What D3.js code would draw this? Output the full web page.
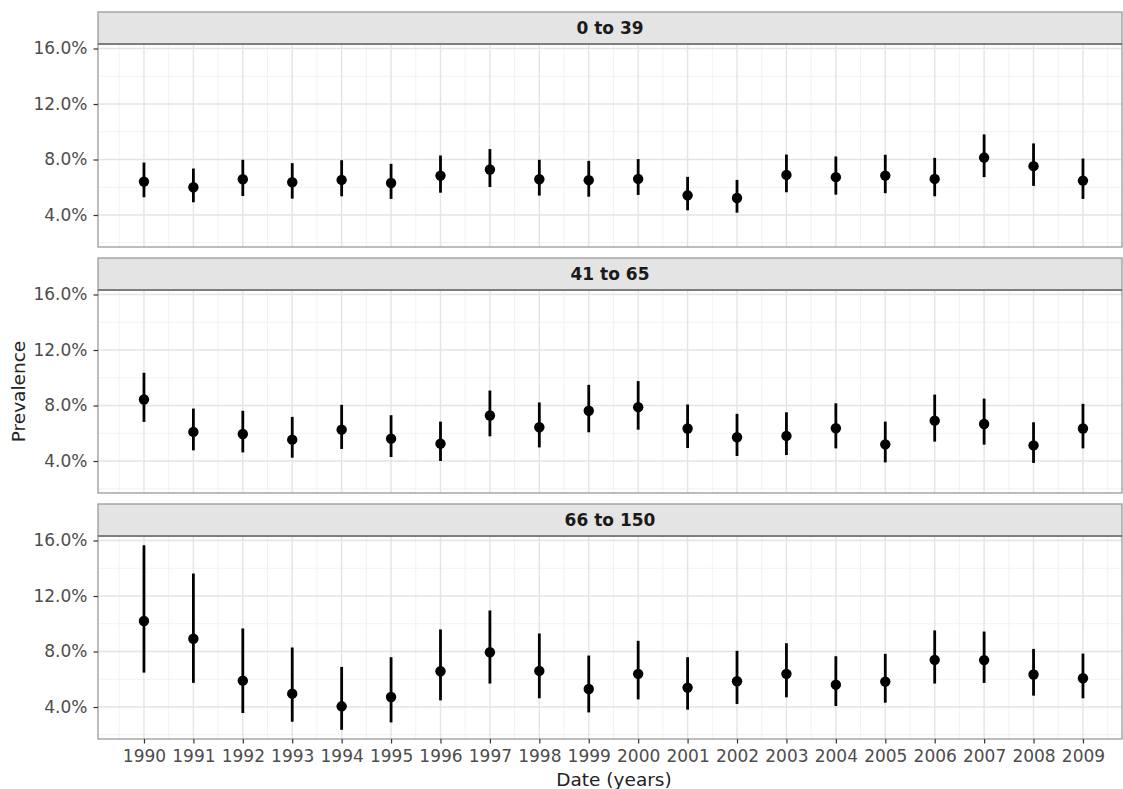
<!DOCTYPE html>
<html>
<head>
<meta charset="utf-8">
<script src="https://cdn.jsdelivr.net/npm/d3@7"></script>
<style>
  body { margin: 0; background: #fff; }
  svg { display: block; font-family: "DejaVu Sans", sans-serif; }
</style>
</head>
<body>
<svg id="chart" width="1123" height="789"></svg>
<script>
// data (percent)
const ageGroups = ["0 to 39", "41 to 65", "66 to 150"]
const years = [1990, 1991, 1992, 1993, 1994, 1995, 1996, 1997, 1998, 1999,
               2000, 2001, 2002, 2003, 2004, 2005, 2006, 2007, 2008, 2009]

const est0 = [6.41, 6.00, 6.58, 6.36, 6.53, 6.31, 6.84, 7.28, 6.58, 6.51,
              6.60, 5.42, 5.23, 6.89, 6.73, 6.84, 6.60, 8.14, 7.52, 6.48]
const lo0  = [5.28, 4.92, 5.37, 5.18, 5.35, 5.16, 5.61, 6.02, 5.40, 5.32,
              5.45, 4.34, 4.17, 5.64, 5.47, 5.57, 5.35, 6.73, 6.10, 5.16]
const hi0  = [7.78, 7.35, 7.98, 7.74, 7.95, 7.69, 8.29, 8.75, 7.98, 7.90,
              8.03, 6.75, 6.53, 8.36, 8.22, 8.34, 8.12, 9.81, 9.16, 8.07]

const est1 = [8.43, 6.10, 5.95, 5.54, 6.26, 5.61, 5.25, 7.28, 6.43, 7.62,
              7.88, 6.34, 5.71, 5.81, 6.36, 5.20, 6.91, 6.67, 5.13, 6.34]
const lo1  = [6.82, 4.77, 4.62, 4.24, 4.87, 4.29, 4.00, 5.78, 4.98, 6.07,
              6.26, 4.94, 4.36, 4.43, 4.91, 3.90, 5.40, 5.18, 3.86, 4.91]
const hi1  = [10.36, 7.78, 7.62, 7.18, 8.05, 7.30, 6.84, 9.08, 8.22, 9.49,
              9.76, 8.07, 7.40, 7.51, 8.16, 6.84, 8.79, 8.50, 6.79, 8.12]

const est2 = [10.20, 8.92, 5.90, 4.96, 4.05, 4.72, 6.58, 7.95, 6.60, 5.30,
              6.39, 5.40, 5.86, 6.39, 5.61, 5.83, 7.40, 7.38, 6.34, 6.07]
const lo2  = [6.48, 5.74, 3.57, 2.94, 2.36, 2.89, 4.48, 5.69, 4.63, 3.61,
              4.55, 3.81, 4.22, 4.70, 4.07, 4.31, 5.69, 5.74, 4.82, 4.63]
const hi2  = [15.66, 13.62, 9.66, 8.29, 6.89, 7.59, 9.59, 10.96, 9.30, 7.71,
              8.77, 7.59, 8.05, 8.60, 7.66, 7.83, 9.52, 9.44, 8.19, 7.85]

const yTicks = [4, 8, 12, 16]
const yMinor = [2, 6, 10, 14]

const panels = [
    {label: ageGroups[0], est: est0, lo: lo0, hi: hi0},
    {label: ageGroups[1], est: est1, lo: lo1, hi: hi1},
    {label: ageGroups[2], est: est2, lo: lo2, hi: hi2}
]

const plotLeft = 98, plotRight = 1122
const plotTop = 12, stripH = 32, plotH = 203, gap = 11
const border = "#9a9a9a"
const tickFont = "17px"

const svg = d3.select("#chart")

// shared scales, ggplot style 5% expansion
const allLo = d3.min(panels, p => d3.min(p.lo))
const allHi = d3.max(panels, p => d3.max(p.hi))
const pad = (allHi - allLo) * 0.05
const x = d3.scaleLinear()
    .domain([1989.07, 2009.79])
    .range([plotLeft, plotRight])

panels.forEach((p, i) => {
    const y0 = plotTop + i * (stripH + plotH + gap)
    const py = y0 + stripH
    const y = d3.scaleLinear()
        .domain([allLo - pad, allHi + pad])
        .range([py + plotH, py])

    const g = svg.append("g")

    // minor grid
    g.selectAll(".hmin").data(yMinor.filter(v => y(v) <= py + plotH && y(v) >= py))
        .join("line")
        .attr("x1", plotLeft).attr("x2", plotRight)
        .attr("y1", d => y(d)).attr("y2", d => y(d))
        .attr("stroke", "#f2f2f2").attr("stroke-width", 1)
    g.selectAll(".vmin").data(years.map(d => d - 0.5).concat([2009.5]))
        .join("line")
        .attr("x1", d => x(d)).attr("x2", d => x(d))
        .attr("y1", py).attr("y2", py + plotH)
        .attr("stroke", "#f2f2f2").attr("stroke-width", 1)

    // major grid
    g.selectAll(".hmaj").data(yTicks)
        .join("line")
        .attr("x1", plotLeft).attr("x2", plotRight)
        .attr("y1", d => y(d)).attr("y2", d => y(d))
        .attr("stroke", "#e4e4e4").attr("stroke-width", 1.4)
    g.selectAll(".vmaj").data(years)
        .join("line")
        .attr("x1", d => x(d)).attr("x2", d => x(d))
        .attr("y1", py).attr("y2", py + plotH)
        .attr("stroke", "#e4e4e4").attr("stroke-width", 1.4)

    // error bars
    g.selectAll(".err").data(years)
        .join("line")
        .attr("x1", d => x(d)).attr("x2", d => x(d))
        .attr("y1", (d, k) => y(p.lo[k]))
        .attr("y2", (d, k) => y(p.hi[k]))
        .attr("stroke", "#000").attr("stroke-width", 2.8)

    // points
    g.selectAll(".pt").data(years)
        .join("circle")
        .attr("cx", d => x(d))
        .attr("cy", (d, k) => y(p.est[k]))
        .attr("r", 5.2)
        .attr("fill", "#000")

    // panel border
    g.append("rect")
        .attr("x", plotLeft).attr("y", py)
        .attr("width", plotRight - plotLeft).attr("height", plotH)
        .attr("fill", "none").attr("stroke", border).attr("stroke-width", 1.3)

    // strip
    g.append("rect")
        .attr("x", plotLeft).attr("y", y0)
        .attr("width", plotRight - plotLeft).attr("height", stripH)
        .attr("fill", "#e4e4e4").attr("stroke", border).attr("stroke-width", 1.3)
    g.append("line")
        .attr("x1", plotLeft).attr("x2", plotRight)
        .attr("y1", py).attr("y2", py)
        .attr("stroke", "#6e6e6e").attr("stroke-width", 1.6)
    g.append("text")
        .attr("x", (plotLeft + plotRight) / 2)
        .attr("y", y0 + stripH / 2)
        .attr("dy", "0.36em")
        .attr("text-anchor", "middle")
        .attr("font-size", "17px")
        .attr("font-weight", "bold")
        .attr("fill", "#1a1a1a")
        .text(p.label)

    // y axis
    const ya = g.append("g")
        .attr("transform", `translate(${plotLeft},0)`)
        .call(d3.axisLeft(y).tickValues(yTicks)
            .tickFormat(d => d.toFixed(1) + "%")
            .tickSize(4.5).tickPadding(6))
    ya.select(".domain").remove()
    ya.selectAll(".tick line").attr("stroke", "#333").attr("stroke-width", 1.2)
    ya.selectAll(".tick text")
        .attr("font-size", tickFont)
        .attr("font-family", "DejaVu Sans, sans-serif")
        .attr("fill", "#4d4d4d")

    // x axis on bottom panel only
    if (i === panels.length - 1) {
        const xa = g.append("g")
            .attr("transform", `translate(0,${py + plotH})`)
            .call(d3.axisBottom(x).tickValues(years)
                .tickFormat(d3.format("d"))
                .tickSize(4.5).tickPadding(6))
        xa.select(".domain").remove()
        xa.selectAll(".tick line").attr("stroke", "#333").attr("stroke-width", 1.2)
        xa.selectAll(".tick text")
            .attr("font-size", tickFont)
            .attr("font-family", "DejaVu Sans, sans-serif")
            .attr("fill", "#4d4d4d")
    }
})

// axis titles
svg.append("text")
    .attr("x", (plotLeft + plotRight) / 2 + 4)
    .attr("y", 786)
    .attr("text-anchor", "middle")
    .attr("font-size", "18.5px")
    .attr("fill", "#222")
    .text("Date (years)")

svg.append("text")
    .attr("transform", `translate(18,${plotTop + (3 * (stripH + plotH) + 2 * gap) / 2 + 16}) rotate(-90)`)
    .attr("dy", "0.36em")
    .attr("text-anchor", "middle")
    .attr("font-size", "18.5px")
    .attr("fill", "#222")
    .text("Prevalence")
</script>
</body>
</html>
